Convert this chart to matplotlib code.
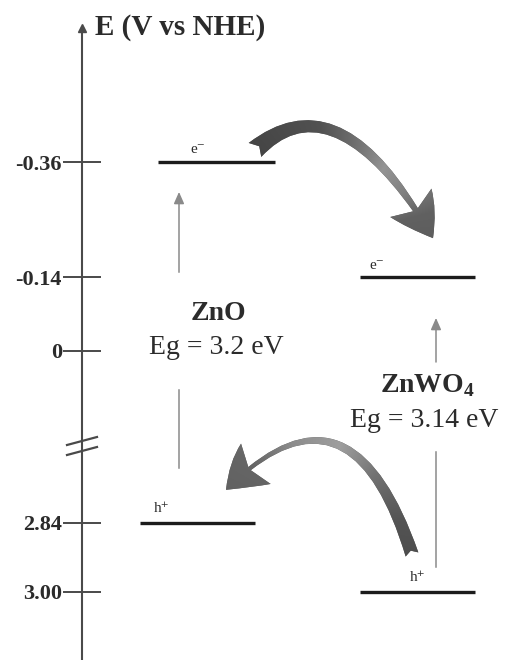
import numpy as np
import matplotlib
matplotlib.use("Agg")
import matplotlib.pyplot as plt
from matplotlib.patches import FancyArrowPatch
from matplotlib.lines import Line2D

# Band-edge potentials (V vs NHE)
materials = ["ZnO", "ZnWO$_4$"]
cb_edge = [-0.36, -0.14]
vb_edge = [2.84, 3.00]
band_gap = [3.2, 3.14]
tick_values = [-0.36, -0.14, 0.0, 2.84, 3.00]
tick_labels = ["-0.36", "-0.14", "0", "2.84", "3.00"]
axis_label = "E (V vs NHE)"

plt.rcParams["font.family"] = ["Liberation Serif", "DejaVu Serif"]
plt.rcParams["mathtext.fontset"] = "custom"
plt.rcParams["mathtext.rm"] = "Liberation Serif:bold"

W, H = 511, 660
fig = plt.figure(figsize=(W / 100, H / 100), dpi=100)
ax = fig.add_axes([82 / W, 0, 1 - 82 / W, (H - 28) / H])

# broken potential axis: stretched near 0 V, squeezed gap, stretched near the VB edges
brk_y = [-5.0, 0.181, 2.675, 8.0]
brk_u = [351 - 525 * 5.0, 351 + 525 * 0.181, 523 - 431 * 0.165, 523 + 431 * 5.16]


def forward(y):
    return np.interp(y, brk_y, brk_u)


def inverse(u):
    return np.interp(u, brk_u, brk_y)


ax.set_yscale("function", functions=(forward, inverse))
ax.set_ylim(inverse(H), inverse(28))
ax.set_xlim(82, W)

axis_col = "#4a4a4a"
text_col = "#2b2b2b"
for s in ["top", "right", "bottom"]:
    ax.spines[s].set_visible(False)
ax.spines["left"].set_color(axis_col)
ax.spines["left"].set_linewidth(1.5)
ax.set_xticks([])
ax.set_yticks(tick_values, tick_labels)
ax.tick_params(axis="y", direction="inout", length=27, width=1.4, color=axis_col,
               pad=1, labelsize=16, labelcolor=text_col)
for lbl in ax.get_yticklabels():
    lbl.set_fontweight("bold")
ax.plot([0], [1], marker="^", ms=6, color=axis_col, transform=ax.transAxes, clip_on=False)
fig.text(95 / W, 1 - 35 / H, axis_label, fontsize=21, fontweight="bold",
         color=text_col, ha="left", va="baseline")

# axis break marks
for y0 in (445, 455):
    fig.add_artist(Line2D([67 / W, 97 / W], [1 - y0 / H, 1 - (y0 - 8) / H],
                          color=axis_col, lw=1.6))

# band edges
level_x = [((158, 275), (140, 255)), ((360, 475), (360, 475))]
for i in range(len(materials)):
    (c0, c1), (v0, v1) = level_x[i]
    ax.plot([c0, c1], [cb_edge[i], cb_edge[i]], color="#1c1c1c", lw=2.4, solid_capstyle="butt")
    ax.plot([v0, v1], [vb_edge[i], vb_edge[i]], color="#1c1c1c", lw=2.4, solid_capstyle="butt")

# carrier labels
e_x = [198, 377]
h_x = [162, 418]
for i in range(len(materials)):
    ax.annotate("e\u207b", xy=(e_x[i], cb_edge[i]), xytext=(0, 4), textcoords="offset points",
                ha="center", va="bottom", fontsize=11, color=text_col)
    ax.annotate("h\u207a", xy=(h_x[i], vb_edge[i]), xytext=(0, 6), textcoords="offset points",
                ha="center", va="bottom", fontsize=11, color=text_col)

# excitation arrows split around the labels
thin = dict(color="#8a8a8a", lw=1.1)
exc = [
    dict(x=179, tip=-0.303, tail=-0.150, low=(0.074, 2.712)),
    dict(x=436, tip=-0.063, tail=0.021, low=(2.676, 2.942)),
]
for a in exc:
    ax.annotate("", xy=(a["x"], a["tip"]), xytext=(a["x"], a["tail"]),
                arrowprops=dict(arrowstyle="-|>,head_length=0.5,head_width=0.22",
                                shrinkA=0, shrinkB=0, mutation_scale=14, **thin))
    ax.plot([a["x"], a["x"]], list(a["low"]), **thin)

# material names and band gaps
name_pos = [(218, -0.059), (427, 0.078)]
gap_pos = [(216, 0.006), (424, 0.145)]
for i, m in enumerate(materials):
    ax.text(*name_pos[i], m, ha="center", va="baseline", fontsize=20,
            fontweight="bold", color=text_col)
    ax.text(*gap_pos[i], f"Eg = {band_gap[i]} eV", ha="center", va="baseline",
            fontsize=20, color=text_col)

# charge-transfer arrows
e_arrow = FancyArrowPatch(posA=(255, -0.383), posB=(433, -0.215),
                          connectionstyle="angle3,angleA=42,angleB=120",
                          arrowstyle="fancy,head_length=1.0,head_width=1.2,tail_width=0.45",
                          mutation_scale=30, color="#5a5a5a", lw=0, transform=ax.transData,
                          shrinkA=0, shrinkB=0, clip_on=False)
h_arrow = FancyArrowPatch(posA=(412, 2.913), posB=(226, 2.763),
                          connectionstyle="angle3,angleA=108,angleB=45",
                          arrowstyle="fancy,head_length=0.95,head_width=1.2,tail_width=0.32",
                          mutation_scale=30, color="#606060", lw=0, transform=ax.transData,
                          shrinkA=0, shrinkB=0, clip_on=False)
ax.add_patch(e_arrow)
ax.add_patch(h_arrow)

# grey shading along each curved arrow, clipped to the arrow outline
ov = fig.add_axes([0, 0, 1, 1], zorder=5)
ov.set_axis_off()
ov.patch.set_alpha(0)
ov.set_xlim(0, W)
ov.set_ylim(H, 0)
yy, xx = np.mgrid[0:H, 0:W] + 0.5
shades = [
    (e_arrow, (345, 235), [-180, -137, -103, -60, -35, -15, 10, 180],
     [0.27, 0.27, 0.32, 0.58, 0.50, 0.38, 0.36, 0.36]),
    (h_arrow, (320, 520), [-180, -165, -140, -110, -75, -40, 0, 25, 180],
     [0.38, 0.38, 0.40, 0.55, 0.62, 0.45, 0.33, 0.30, 0.30]),
]
for patch, (cx, cy), angs, greys in shades:
    ang = np.degrees(np.arctan2(yy - cy, xx - cx))
    g = np.interp(ang, angs, greys)
    im = ov.imshow(np.dstack([g, g, g]), extent=(0, W, H, 0), interpolation="nearest",
                   aspect="auto")
    im.set_clip_path(patch)

fig.savefig("out.png", dpi=100)
